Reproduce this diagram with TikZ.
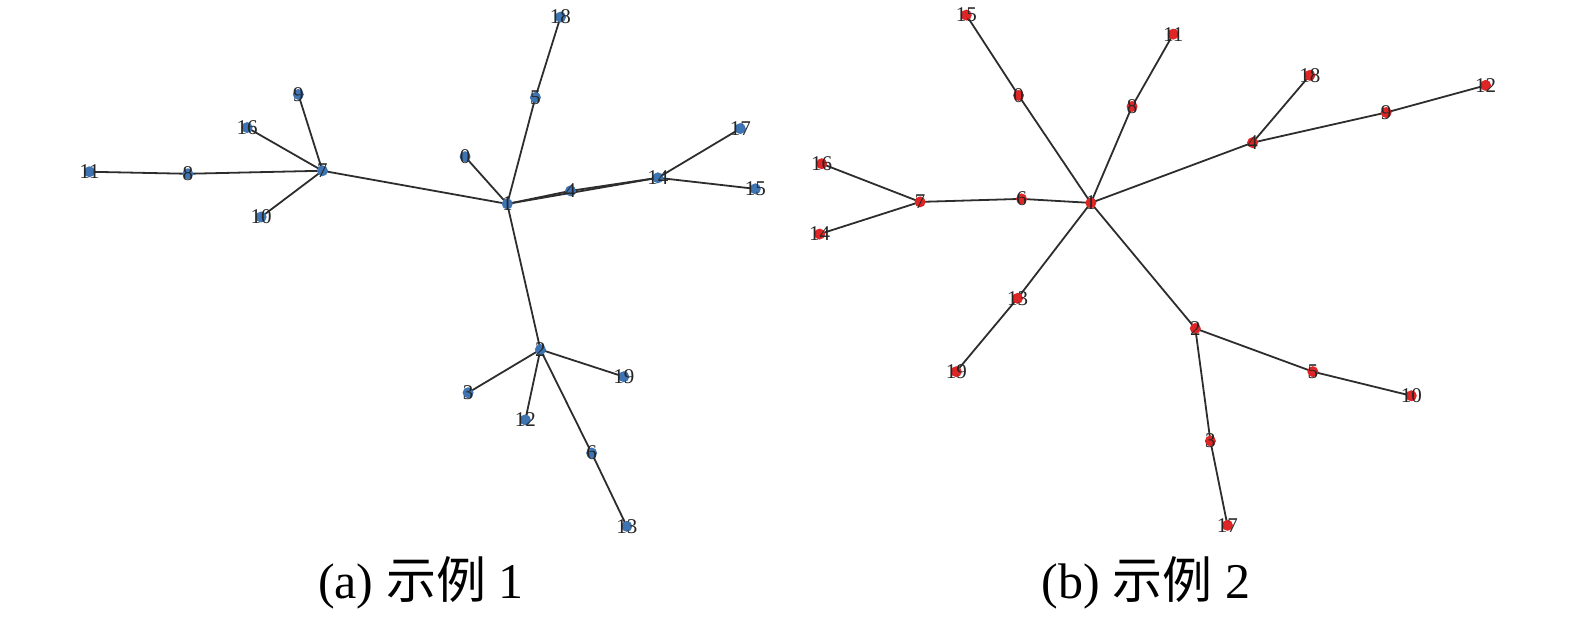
\documentclass[tikz,border=0pt]{standalone}
\usepackage{fontspec}
\setmainfont{Liberation Serif}
\newfontfamily\cjk{Noto Sans CJK SC}
\definecolor{nblue}{RGB}{62,116,178}
\definecolor{nred}{RGB}{222,38,38}
\definecolor{edgec}{RGB}{45,45,45}
\pgfdeclarelayer{bg}\pgfsetlayers{bg,main}
\tikzset{
  vlab/.style={font=\fontsize{21}{21}\selectfont,text=black!85,inner sep=0pt},
  vb/.style={circle,fill=nblue,inner sep=0pt,minimum size=11pt,label={[vlab]center:#1}},
  vr/.style={circle,fill=nred,inner sep=0pt,minimum size=11pt,label={[vlab]center:#1}},
  ed/.style={draw=edgec,line width=1.8pt},
  captext/.style={font=\fontsize{50}{50}\selectfont,anchor=center}
}
\begin{document}
\begin{tikzpicture}[x=1.0045pt,y=-1.0045pt]
\useasboundingbox (0,0) rectangle (1568,617);
% graph (a)
\node[vb=18] (a18) at (558,17) {};
\node[vb=5] (a5) at (533,97) {};
\node[vb=9] (a9) at (297,94) {};
\node[vb=16] (a16) at (246,127) {};
\node[vb=7] (a7) at (321,170) {};
\node[vb=11] (a11) at (89,171) {};
\node[vb=8] (a8) at (187,173) {};
\node[vb=10] (a10) at (260,216) {};
\node[vb=0] (a0) at (463,156) {};
\node[vb=1] (a1) at (505,203) {};
\node[vb=4] (a4) at (568,190) {};
\node[vb=14] (a14) at (655,177) {};
\node[vb=17] (a17) at (737,128) {};
\node[vb=15] (a15) at (752,188) {};
\node[vb=2] (a2) at (538,348) {};
\node[vb=3] (a3) at (466,391) {};
\node[vb=12] (a12) at (523,418) {};
\node[vb=19] (a19) at (621,375) {};
\node[vb=6] (a6) at (589,451) {};
\node[vb=13] (a13) at (624,524) {};
% graph (b)
\node[vr=15] (b15) at (962,15) {};
\node[vr=0] (b0) at (1014,95) {};
\node[vr=11] (b11) at (1168,34) {};
\node[vr=8] (b8) at (1127,106) {};
\node[vr=18] (b18) at (1304,75) {};
\node[vr=12] (b12) at (1479,85) {};
\node[vr=9] (b9) at (1380,112) {};
\node[vr=4] (b4) at (1247,142) {};
\node[vr=16] (b16) at (818,163) {};
\node[vr=7] (b7) at (916,201) {};
\node[vr=6] (b6) at (1017,198) {};
\node[vr=1] (b1) at (1086,202) {};
\node[vr=14] (b14) at (816,233) {};
\node[vr=13] (b13) at (1013,297) {};
\node[vr=19] (b19) at (952,370) {};
\node[vr=2] (b2) at (1190,327) {};
\node[vr=5] (b5) at (1307,370) {};
\node[vr=10] (b10) at (1405,394) {};
\node[vr=3] (b3) at (1205,439) {};
\node[vr=17] (b17) at (1222,523) {};
\begin{pgfonlayer}{bg}
\foreach \u/\v in {a18/a5,a5/a1,a0/a1,a1/a4,a4/a14,a14/a17,a14/a15,a1/a7,a7/a9,a7/a16,a7/a10,a7/a8,a8/a11,a1/a2,a2/a3,a2/a12,a2/a19,a2/a6,a6/a13,
  b15/b0,b0/b1,b11/b8,b8/b1,b18/b4,b4/b9,b9/b12,b4/b1,b16/b7,b14/b7,b7/b6,b6/b1,b1/b13,b13/b19,b1/b2,b2/b5,b5/b10,b2/b3,b3/b17}
  \draw[ed] (\u.center) -- (\v.center);
\draw[ed] (a1.center) -- (a14.center);
\end{pgfonlayer}
\node[captext] (capa) at (419,580) {(a) {\cjk 示例} 1};
\node[captext] (capb) at (1141,580) {(b) {\cjk 示例} 2};
\end{tikzpicture}
\end{document}
